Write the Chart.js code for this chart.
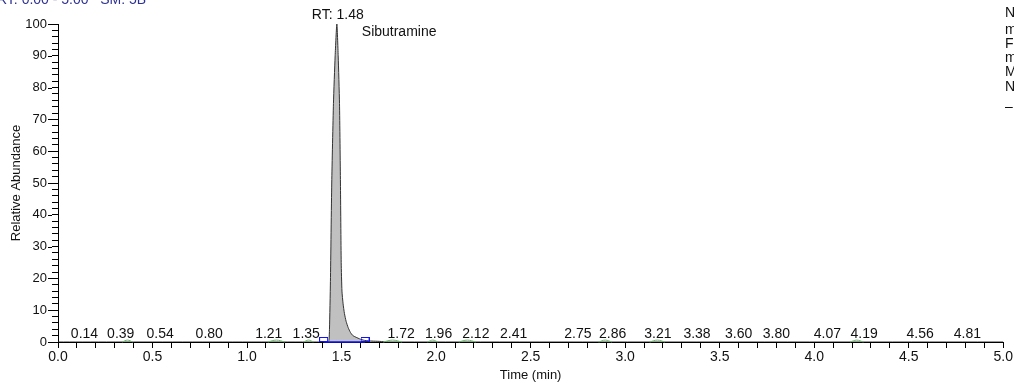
<!DOCTYPE html>
<html>
<head>
<meta charset="utf-8">
<title>Sibutramine chromatogram</title>
<script src="https://cdn.jsdelivr.net/npm/chart.js@4.4.1/dist/chart.umd.min.js"></script>
<style>
  html, body { margin: 0; padding: 0; background: #fff; }
  canvas { display: block; }
</style>
</head>
<body>
<canvas id="chrom" width="1014" height="383"></canvas>
<script>
// Trace: time (min) vs relative abundance (%)
const timeMin = [0.00, 1.425, 1.433, 1.436, 1.441, 1.448, 1.457, 1.466, 1.475, 1.482, 1.489, 1.494,
  1.498, 1.502, 1.508, 1.515, 1.524, 1.535, 1.547, 1.560, 1.595, 1.622, 1.66, 1.70, 1.75, 5.00];
const abundance = [0, 0, 0.5, 4, 19, 50, 75, 90, 100, 90, 75, 50,
  25, 16, 12, 9, 6.5, 4.5, 3, 2, 1, 0.5, 0.3, 0.2, 0, 0];

// small integrated noise peaks (green) and their labels
const labelTimes = [0.14, 0.39, 0.54, 0.80, 1.21, 1.35, 1.72, 1.96, 2.12, 2.41,
  2.75, 2.86, 3.21, 3.38, 3.60, 3.80, 4.07, 4.19, 4.56, 4.81];
const greenStart = [0.34, 1.11, 1.30, 1.72, 1.955, 2.12, 2.86, 3.13, 4.19];
const greenEnd   = [0.395, 1.20, 1.35, 1.82, 2.01, 2.21, 2.93, 3.21, 4.26];

// integration baseline of the main peak (blue)
const baselineTimes = [1.405, 1.624];

const peakRT = 1.48;
const peakName = "Sibutramine";

const xTickLabels = ["0.0", "0.5", "1.0", "1.5", "2.0", "2.5", "3.0", "3.5", "4.0", "4.5", "5.0"];
const yTickLabels = ["0", "10", "20", "30", "40", "50", "60", "70", "80", "90", "100"];

const FONT = "'Liberation Sans', Arial, sans-serif";

// the software pushes some labels sideways so they don't collide (pixels)
const labelNudge = { "0.39": -11, "1.21": -18, "1.35": -7, "1.72": 18, "1.96": 10,
  "2.12": 17, "2.86": 14, "3.21": -7, "4.19": 14 };

const tracePoints = timeMin.map((t, i) => ({ x: t, y: abundance[i] }));

const greenPoints = [];
greenStart.forEach((s, i) => {
  const e = greenEnd[i];
  greenPoints.push({ x: s, y: 0 }, { x: (s + e) / 2, y: 0.6 }, { x: e, y: 0 }, { x: e, y: null });
});

// hollow blue box that sits on top of the axis
function makeBox() {
  const c = document.createElement("canvas");
  c.width = 9;
  c.height = 10;
  const g = c.getContext("2d");
  g.strokeStyle = "#1010ff";
  g.lineWidth = 1;
  g.strokeRect(0.5, 0.5, 8, 4);
  return c;
}
const boxImg = makeBox();

function isMultiple(v, step) {
  return Math.abs(v / step - Math.round(v / step)) < 1e-6;
}

const annotations = {
  id: "annotations",
  afterDatasetsDraw(chart) {
    const ctx = chart.ctx;
    const xs = chart.scales.x;
    const ys = chart.scales.y;
    ctx.save();

    // longer major ticks on the y axis
    ctx.strokeStyle = "#000";
    ctx.lineWidth = 1;
    yTickLabels.forEach(lbl => {
      const py = Math.round(ys.getPixelForValue(Number(lbl))) + 0.5;
      ctx.beginPath();
      ctx.moveTo(xs.left - 10, py);
      ctx.lineTo(xs.left - 6, py);
      ctx.stroke();
    });

    ctx.font = "14px " + FONT;
    ctx.fillStyle = "#111";
    ctx.textAlign = "center";
    ctx.textBaseline = "alphabetic";
    const base = ys.getPixelForValue(0) - 4;
    labelTimes.forEach(t => {
      const key = t.toFixed(2);
      ctx.fillText(key, xs.getPixelForValue(t) + (labelNudge[key] || 0), base);
    });

    ctx.fillText("RT: " + peakRT.toFixed(2), xs.getPixelForValue(peakRT), 19);
    ctx.textAlign = "left";
    ctx.fillText(peakName, xs.getPixelForValue(peakRT) + 24, 36);

    // header, cut off by the top edge
    ctx.fillStyle = "#2e3192";
    ctx.fillText("RT: 0.00 - 5.00   SM: 5B", -3, 4);

    // side panel text, cut off by the right edge
    ctx.fillStyle = "#111";
    ctx.textBaseline = "middle";
    const side = ["N", "m", "F", "m", "M", "N", "\u2013"];
    const sideY = [13, 30, 44, 58, 72, 87, 107];
    side.forEach((s, i) => ctx.fillText(s, 1005, sideY[i]));

    ctx.restore();
  }
};

new Chart(document.getElementById("chrom"), {
  type: "line",
  data: {
    datasets: [
      {
        data: tracePoints,
        borderColor: "#333",
        borderWidth: 1,
        backgroundColor: "#c0c0c0",
        fill: "origin",
        pointRadius: 0,
        tension: 0.2,
        order: 3
      },
      {
        data: greenPoints,
        borderColor: "#66bb66",
        borderWidth: 1,
        pointRadius: 0,
        spanGaps: false,
        tension: 0.4,
        fill: false,
        clip: false,
        order: 2
      },
      {
        data: baselineTimes.map(t => ({ x: t, y: 0 })),
        borderColor: "#1010ff",
        borderWidth: 1.5,
        pointStyle: boxImg,
        pointRadius: 5,
        fill: false,
        clip: false,
        order: 1
      }
    ]
  },
  options: {
    responsive: false,
    animation: false,
    devicePixelRatio: 1,
    layout: { padding: { top: 24, right: 10, left: 0, bottom: 0 } },
    plugins: {
      legend: { display: false },
      tooltip: { enabled: false }
    },
    scales: {
      x: {
        type: "linear",
        min: 0,
        max: 5,
        afterFit: scale => { scale.height = 41; },
        border: { display: true, color: "#000", width: 1 },
        grid: { drawOnChartArea: false, drawTicks: true, tickLength: 6, color: "#000" },
        ticks: {
          stepSize: 0.1,
          autoSkip: false,
          maxRotation: 0,
          padding: 1,
          color: "#111",
          font: { family: FONT, size: 14 },
          callback: v => isMultiple(v, 0.5) ? xTickLabels[Math.round(v / 0.5)] : ""
        },
        title: {
          display: true,
          text: "Time (min)",
          color: "#111",
          font: { family: FONT, size: 13 },
          padding: { top: 0, bottom: 0 }
        }
      },
      y: {
        min: 0,
        max: 100,
        afterFit: scale => { scale.width = 58; },
        border: { display: true, color: "#000", width: 1 },
        grid: { drawOnChartArea: false, drawTicks: true, tickLength: 6, color: "#000" },
        ticks: {
          stepSize: 2,
          autoSkip: false,
          padding: 5,
          color: "#111",
          font: { family: FONT, size: 13 },
          callback: v => isMultiple(v, 10) ? yTickLabels[Math.round(v / 10)] : ""
        },
        title: {
          display: true,
          text: "Relative Abundance",
          color: "#111",
          font: { family: FONT, size: 13 },
          padding: { top: 9, bottom: 0 }
        }
      }
    }
  },
  plugins: [annotations]
});
</script>
</body>
</html>
